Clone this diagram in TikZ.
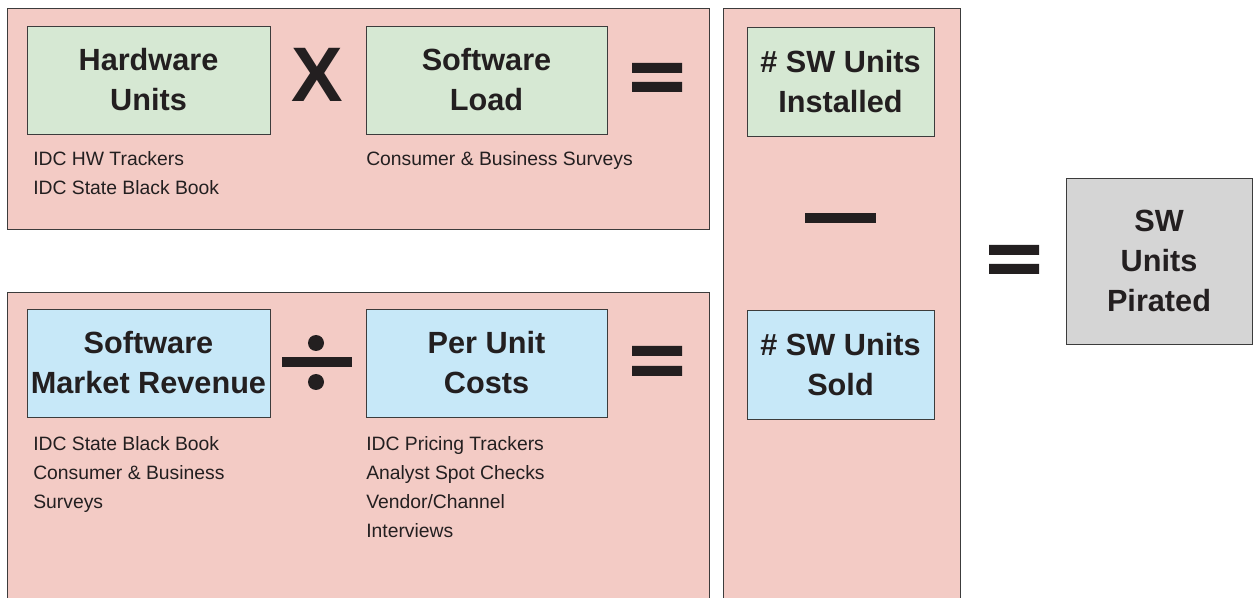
\documentclass[tikz,border=0pt]{standalone}
\usepackage{fontspec}
\setmainfont{Liberation Sans}
\definecolor{panelpink}{HTML}{F3CBC5}
\definecolor{edgegray}{HTML}{3C3C3C}
\definecolor{termgreen}{HTML}{D6E8D3}
\definecolor{termblue}{HTML}{C7E8F8}
\definecolor{termgray}{HTML}{D5D5D5}
\definecolor{inkblack}{HTML}{231F20}
\begin{document}
\begin{tikzpicture}[x=0.75pt,y=-0.75pt,
    panel/.style={draw=edgegray, line width=0.6pt, fill=panelpink},
    termbox/.style={draw=edgegray, line width=0.6pt, align=center, inner sep=1pt,
      text=inkblack, font=\fontsize{23}{30}\selectfont\bfseries},
    greenbox/.style={termbox, fill=termgreen},
    bluebox/.style={termbox, fill=termblue},
    source/.style={anchor=base west, align=left, inner sep=0pt, text=inkblack,
      font=\fontsize{14.5}{21.75}\selectfont},
    opbar/.style={fill=inkblack}]
    \useasboundingbox (0,0) rectangle (1256,598);
    \clip (0,0) rectangle (1256,598);

    % Background panels
    \draw[panel] (7,8) rectangle (709,229);
    \draw[panel] (7,292) rectangle (709,640);
    \draw[panel] (723,8) rectangle (960,640);

    % Installed row
    \node[greenbox, minimum width=182.25pt, minimum height=81pt] (hwunits) at (148.5,80) {Hardware\\Units};
    \node[greenbox, minimum width=180.75pt, minimum height=81pt] (swload) at (486.5,80) {Software\\Load};
    \node[greenbox, minimum width=140.25pt, minimum height=81.75pt] (installed) at (840.5,81.5) {\# SW Units\\Installed};
    \node[inner sep=0pt, text=inkblack, font=\fontsize{58}{58}\selectfont\bfseries] (times) at (317,75) {X};
    \fill[opbar] (632,63) rectangle (682,73) (632,82) rectangle (682,92);
    % sources sit on the baseline of their last line
    \node[source] (hwsrc) at (33,195) {IDC HW Trackers\\IDC State Black Book};
    \node[source] (loadsrc) at (366,166) {Consumer \& Business Surveys};

    % Sold row
    \node[bluebox, minimum width=182.25pt, minimum height=81pt] (revenue) at (148.5,363) {Software\\Market Revenue};
    \node[bluebox, minimum width=180.75pt, minimum height=81pt] (costs) at (486.5,363) {Per Unit\\Costs};
    \node[bluebox, minimum width=140.25pt, minimum height=81.75pt] (sold) at (840.5,365) {\# SW Units\\Sold};
    \fill[opbar] (282,357) rectangle (352,367);
    \fill[opbar] (316,343) circle (8) (316,382) circle (8);
    \fill[opbar] (632,346) rectangle (682,356) (632,366) rectangle (682,376);
    \node[source] (revsrc) at (33,508) {IDC State Black Book\\Consumer \& Business\\Surveys};
    \node[source] (costsrc) at (366,537) {IDC Pricing Trackers\\Analyst Spot Checks\\Vendor/Channel\\Interviews};

    % Difference and result
    \fill[opbar] (805,213) rectangle (876,223);
    \fill[opbar] (989,245) rectangle (1039,255) (989,264) rectangle (1039,274);
    \node[termbox, fill=termgray, minimum width=139.5pt, minimum height=124.5pt] (pirated) at (1159,261) {SW\\Units\\Pirated};
\end{tikzpicture}
\end{document}
